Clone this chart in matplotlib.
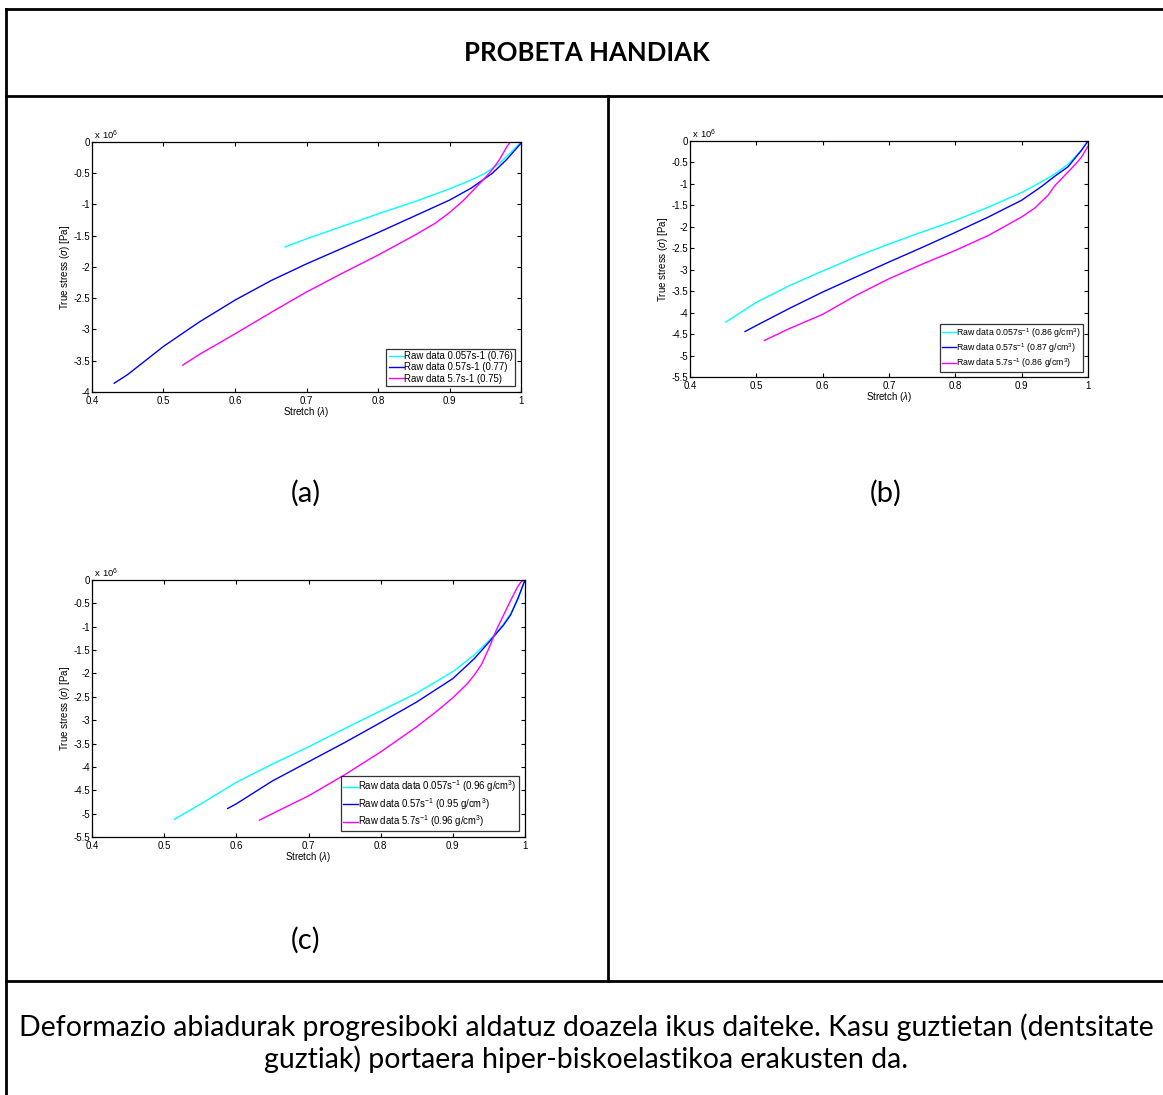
import matplotlib
matplotlib.use("Agg")
import matplotlib.pyplot as plt
from matplotlib.lines import Line2D
from matplotlib.ticker import FuncFormatter, MultipleLocator

plt.rcParams['font.family'] = ['Liberation Sans', 'DejaVu Sans']
plt.rcParams['mathtext.fontset'] = 'custom'
plt.rcParams['mathtext.rm'] = 'Liberation Sans'
plt.rcParams['mathtext.it'] = 'Liberation Sans:italic'
plt.rcParams['axes.unicode_minus'] = False

# ---------------- data (stress in units of 1e6 Pa) ----------------
title = "PROBETA HANDIAK"
panel_labels = ["(a)", "(b)", "(c)"]
caption_lines = ["Deformazio abiadurak progresiboki aldatuz doazela ikus daiteke. Kasu guztietan (dentsitate",
                 "guztiak) portaera hiper-biskoelastikoa erakusten da."]

# Panel (a)
a_cyan_x = [0.670, 0.70, 0.75, 0.80, 0.85, 0.90, 0.93, 0.95, 0.97, 0.99, 1.00]
a_cyan_y = [-1.68, -1.55, -1.35, -1.15, -0.96, -0.75, -0.61, -0.50, -0.34, -0.12, 0.0]
a_blue_x = [0.431, 0.45, 0.50, 0.55, 0.60, 0.65, 0.70, 0.75, 0.80, 0.85, 0.90, 0.93, 0.96, 0.98, 1.00]
a_blue_y = [-3.86, -3.72, -3.27, -2.88, -2.53, -2.22, -1.95, -1.70, -1.45, -1.19, -0.93, -0.74, -0.50, -0.28, -0.02]
a_mag_x = [0.527, 0.55, 0.60, 0.65, 0.70, 0.75, 0.80, 0.85, 0.88, 0.90, 0.92, 0.94, 0.95, 0.96, 0.97, 0.98, 0.985, 1.00]
a_mag_y = [-3.57, -3.40, -3.07, -2.73, -2.40, -2.10, -1.81, -1.50, -1.30, -1.13, -0.93, -0.69, -0.57, -0.44, -0.28, -0.08, 0.0, 0.0]
a_labels = ["Raw data 0.057s-1 (0.76)", "Raw data 0.57s-1 (0.77)", "Raw data 5.7s-1 (0.75)"]

# Panel (b)
b_cyan_x = [0.454, 0.50, 0.55, 0.60, 0.65, 0.70, 0.75, 0.80, 0.85, 0.90, 0.93, 0.95, 0.97, 0.99, 1.00]
b_cyan_y = [-4.22, -3.76, -3.37, -3.03, -2.70, -2.40, -2.12, -1.85, -1.54, -1.20, -0.95, -0.77, -0.54, -0.22, 0.0]
b_blue_x = [0.483, 0.50, 0.55, 0.60, 0.65, 0.70, 0.75, 0.80, 0.85, 0.90, 0.93, 0.95, 0.97, 0.99, 1.00]
b_blue_y = [-4.44, -4.30, -3.90, -3.52, -3.17, -2.82, -2.48, -2.13, -1.77, -1.38, -1.06, -0.82, -0.60, -0.22, 0.0]
b_mag_x = [0.512, 0.55, 0.60, 0.65, 0.70, 0.75, 0.80, 0.85, 0.90, 0.92, 0.94, 0.95, 0.96, 0.98, 0.99, 1.00]
b_mag_y = [-4.65, -4.37, -4.04, -3.60, -3.21, -2.87, -2.55, -2.20, -1.77, -1.56, -1.26, -1.04, -0.88, -0.56, -0.38, -0.12]
b_labels = [r"Raw data 0.057s$^{-1}$ (0.86 g/cm$^{3}$)", r"Raw data 0.57s$^{-1}$ (0.87 g/cm$^{3}$)",
            r"Raw data 5.7s$^{-1}$ (0.86 g/cm$^{3}$)"]

# Panel (c)
c_cyan_x = [0.514, 0.55, 0.60, 0.65, 0.70, 0.75, 0.80, 0.85, 0.90, 0.93, 0.95, 0.97, 0.98, 0.99, 1.00]
c_cyan_y = [-5.12, -4.80, -4.33, -3.94, -3.57, -3.18, -2.80, -2.42, -1.96, -1.60, -1.30, -0.95, -0.72, -0.42, 0.0]
c_blue_x = [0.588, 0.60, 0.65, 0.70, 0.75, 0.80, 0.85, 0.90, 0.93, 0.95, 0.97, 0.98, 0.99, 1.00]
c_blue_y = [-4.89, -4.79, -4.30, -3.89, -3.48, -3.05, -2.61, -2.11, -1.68, -1.33, -0.97, -0.75, -0.40, 0.0]
c_mag_x = [0.632, 0.65, 0.70, 0.75, 0.80, 0.85, 0.88, 0.90, 0.92, 0.93, 0.94, 0.95, 0.96, 0.97, 0.98, 0.99, 0.995, 1.00]
c_mag_y = [-5.14, -5.00, -4.62, -4.17, -3.68, -3.14, -2.78, -2.52, -2.22, -2.03, -1.80, -1.46, -1.08, -0.76, -0.44, -0.14, -0.03, 0.0]
c_labels = [r"Raw data data 0.057s$^{-1}$ (0.96 g/cm$^{3}$)", r"Raw data 0.57s$^{-1}$ (0.95 g/cm$^{3}$)",
            r"Raw data 5.7s$^{-1}$ (0.96 g/cm$^{3}$)"]

colors = ["#00ffff", "#0000ff", "#ff00ff"]

W, H = 1163, 1095
fig = plt.figure(figsize=(W / 100, H / 100), dpi=100)


def px_rect(l, t, r, b):
    return [l / W, 1 - b / H, (r - l) / W, (b - t) / H]


def fmt(v, pos):
    s = "%g" % round(v, 2)
    return "0" if s in ("-0", "0") else s


def make_panel(rect, series, labels, ymin, leg_fontsize=6.9):
    ax = fig.add_axes(px_rect(*rect))
    for (x, y), c, lab in zip(series, colors, labels):
        ax.plot(x, y, color=c, lw=1.0, label=lab)
    ax.set_xlim(0.4, 1.0)
    ax.set_ylim(ymin, 0)
    ax.xaxis.set_major_locator(MultipleLocator(0.1))
    ax.yaxis.set_major_locator(MultipleLocator(0.5))
    ax.xaxis.set_major_formatter(FuncFormatter(fmt))
    ax.yaxis.set_major_formatter(FuncFormatter(fmt))
    ax.tick_params(direction='in', top=True, right=True, length=3, width=0.8,
                   labelsize=7, pad=1.5)
    ax.tick_params(axis='x', pad=3.0)
    for sp in ax.spines.values():
        sp.set_linewidth(0.9)
    ax.set_xlabel(r"Stretch ($\lambda$)", fontsize=7, labelpad=-0.5)
    ax.set_ylabel(r"True stress ($\sigma$) [Pa]", fontsize=7, labelpad=1)
    ax.text(0.0, 1.0, r" x 10$^{6}$", transform=ax.transAxes, fontsize=6.8,
            ha='left', va='bottom')
    leg = ax.legend(loc='lower right', fontsize=leg_fontsize, frameon=True, fancybox=False,
                    edgecolor='black', handlelength=1.6, handletextpad=0.0,
                    labelspacing=0.15, borderpad=0.25, borderaxespad=0.6)
    leg.get_frame().set_linewidth(0.9)
    return ax


make_panel((92, 142, 521, 392),
           [(a_cyan_x, a_cyan_y), (a_blue_x, a_blue_y), (a_mag_x, a_mag_y)], a_labels, -4)
make_panel((690, 141, 1088, 377),
           [(b_cyan_x, b_cyan_y), (b_blue_x, b_blue_y), (b_mag_x, b_mag_y)], b_labels, -5.5,
           leg_fontsize=6.3)
make_panel((92, 580, 525, 837),
           [(c_cyan_x, c_cyan_y), (c_blue_x, c_blue_y), (c_mag_x, c_mag_y)], c_labels, -5.5,
           leg_fontsize=6.9)

# table lines
lw = 2.0
def hline(y, x0, x1):
    fig.add_artist(Line2D([x0 / W, x1 / W], [1 - y / H, 1 - y / H], color='black', lw=lw))
def vline(x, y0, y1):
    fig.add_artist(Line2D([x / W, x / W], [1 - y0 / H, 1 - y1 / H], color='black', lw=lw))

hline(9, 6, W)
hline(96, 6, W)
hline(981, 6, W)
vline(6, 9, H)
vline(608, 96, 981)

txtfont = ['Lato', 'DejaVu Sans']
fig.text(587 / W, 1 - 53 / H, title, ha='center', va='center', fontsize=18.5,
         fontweight='bold', family=txtfont)
fig.text(306 / W, 1 - 493 / H, panel_labels[0], ha='center', va='center', fontsize=21, family=txtfont)
fig.text(886 / W, 1 - 493 / H, panel_labels[1], ha='center', va='center', fontsize=21, family=txtfont)
fig.text(306 / W, 1 - 940 / H, panel_labels[2], ha='center', va='center', fontsize=21, family=txtfont)
fig.text(586 / W, 1 - 1027 / H, caption_lines[0], ha='center', va='center', fontsize=20.5, family=txtfont)
fig.text(586 / W, 1 - 1059 / H, caption_lines[1], ha='center', va='center', fontsize=20.5, family=txtfont)

fig.savefig("out.png", dpi=100, facecolor='white')
